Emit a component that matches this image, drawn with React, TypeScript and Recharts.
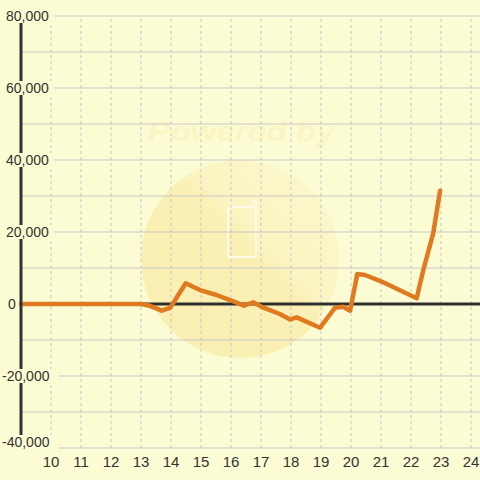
import React from 'react';
import { LineChart, Line, XAxis, YAxis, CartesianGrid, ReferenceLine } from 'recharts';

const hours = [9, 13, 13.3, 13.69, 13.97, 14.49, 15.02, 15.52, 15.97, 16.43, 16.74, 17.08, 17.63, 17.97, 18.19, 18.97, 19.47, 19.74, 19.97, 20.21, 20.47, 21.0, 22.19, 22.41, 22.74, 22.97];
const values = [0, 0, -500, -1860, -1100, 5750, 3700, 2500, 1100, -470, 470, -1030, -2780, -4300, -3700, -6580, -1030, -750, -1860, 8330, 8060, 6300, 1580, 9440, 19640, 31470];
const xTicks = [10, 11, 12, 13, 14, 15, 16, 17, 18, 19, 20, 21, 22, 23, 24];
const yTicks = [-40000, -30000, -20000, -10000, 0, 10000, 20000, 30000, 40000, 50000, 60000, 70000, 80000];

const data = hours.map((h, i) => ({ h, v: values[i] }));

const BG = '#FCFCD4';

const fmt = (v: number) => v.toLocaleString('en-US');

const YTick = (props: any) => {
  const { y, payload } = props;
  const v = payload.value as number;
  if (v % 20000 !== 0) return null;
  const label = fmt(v);
  const x = v < 0 ? 2 : v === 0 ? 8 : 6;
  const w = label.length * 7.6 + (v < 0 ? 1 : 0);
  const yy = v === -40000 ? y - 6 : y;
  return (
    <g>
      <rect x={x - 1} y={yy - 7} width={w + 3} height={14} fill={BG} />
      <text x={x} y={yy} dominantBaseline="central" textAnchor="start" fontSize={14} fill="#333" fontFamily="'Liberation Sans', Arial, sans-serif">{label}</text>
    </g>
  );
};

const XTick = (props: any) => {
  const { x, payload } = props;
  return (
    <text x={x} y={461} dominantBaseline="central" textAnchor="middle" fontSize={15} fill="#333" fontFamily="'Liberation Sans', Arial, sans-serif">{payload.value}</text>
  );
};

export default function App() {
  return (
    <div style={{ position: 'absolute', left: 0, top: 0, width: 480, height: 480, background: BG, overflow: 'hidden' }}>
      <svg width={480} height={480} style={{ position: 'absolute', left: 0, top: 0 }}>
        <defs>
          <linearGradient id="wm" x1="0" y1="1" x2="1" y2="0">
            <stop offset="0" stopColor="#FAEFB2" />
            <stop offset="0.55" stopColor="#FAF0B4" />
            <stop offset="0.6" stopColor="#FBF4C2" />
            <stop offset="1" stopColor="#FCF9CE" />
          </linearGradient>
        </defs>
        <circle cx={240} cy={259} r={99} fill="url(#wm)" />
        <text x={148} y={141} fontSize={27} fontWeight="bold" fontStyle="italic" fill="#FAF5C2" fontFamily="'Liberation Sans', Arial, sans-serif" textLength={187} lengthAdjust="spacingAndGlyphs">Powered by</text>
        <path d="M228 210 L228 255 Q228 257 230 257 L254 257 Q256 257 256 255 L256 202 L253 200 L253 207 L230 207 Q228 207 228 210 Z" fill="none" stroke="#FFFBE6" strokeWidth={2} />
      </svg>
      <div style={{ position: 'absolute', left: 0, top: 0 }}>
        <LineChart width={480} height={480} data={data} margin={{ top: 16, right: 0, bottom: 0, left: 20 }}>
          <CartesianGrid horizontal={true} vertical={false} stroke="#C8C8C8" strokeWidth={1} />
          {xTicks.map((t) => (
            <ReferenceLine key={t} x={t} stroke="#C4C4CC" strokeDasharray="3 3" strokeWidth={1} />
          ))}
          <XAxis dataKey="h" type="number" domain={[9, 24.3]} ticks={xTicks} axisLine={false} tickLine={false} tick={<XTick />} height={32} interval={0} />
          <YAxis type="number" domain={[-40000, 80000]} ticks={yTicks} width={1} axisLine={{ stroke: '#333', strokeWidth: 3 }} tickLine={false} tick={<YTick />} interval={0} />
          <ReferenceLine y={0} stroke="#2F2F2F" strokeWidth={3} />
          <Line type="linear" dataKey="v" stroke="#DF7A20" strokeWidth={4.5} dot={false} isAnimationActive={false} strokeLinejoin="round" strokeLinecap="round" />
        </LineChart>
      </div>
    </div>
  );
}
